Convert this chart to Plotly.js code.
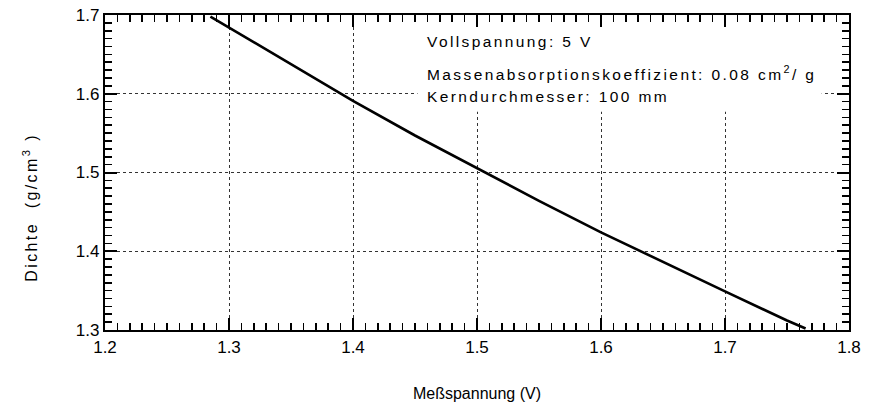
<!DOCTYPE html>
<html>
<head>
<meta charset="utf-8">
<script src="https://cdn.plot.ly/plotly-3.0.1.min.js"></script>
<style>
  html, body { margin: 0; padding: 0; background: #fff; }
  #wrap { position: relative; width: 870px; height: 417px; }
  #chart, #ticks { position: absolute; left: 0; top: 0; width: 870px; height: 417px; }
  #ticks { pointer-events: none; }
  .annotation-text { letter-spacing: 2.4px; }
</style>
</head>
<body>
<div id="wrap">
  <div id="chart"></div>
  <div id="ticks"></div>
</div>
<script>
const voltage = [1.285, 1.30, 1.35, 1.40, 1.45, 1.50, 1.55, 1.60, 1.65, 1.70, 1.75, 1.765];
const density = [1.698, 1.684, 1.637, 1.591, 1.547, 1.505, 1.464, 1.424, 1.386, 1.349, 1.312, 1.302];

// Major ticks and their labels
const xTickVals = [1.2, 1.3, 1.4, 1.5, 1.6, 1.7, 1.8];
const xTickText = ['1.2', '1.3', '1.4', '1.5', '1.6', '1.7', '1.8'];
const yTickVals = [1.3, 1.4, 1.5, 1.6, 1.7];
const yTickText = ['1.3', '1.4', '1.5', '1.6', '1.7'];
const minorPerMajor = 10;

const infoLines = [
  'Vollspannung: 5 V',
  'Massenabsorptionskoeffizient: 0.08 cm<sup>2</sup>/ g',
  'Kerndurchmesser: 100 mm'
];
const xTitle = 'Meßspannung (V)';
const yTitle = 'Dichte  (g/cm<sup>3</sup> )';

const font = 'Liberation Sans, Arial, Helvetica, sans-serif';
const margin = { l: 105, r: 21, t: 15, b: 87 };

const curve = {
  x: voltage,
  y: density,
  type: 'scatter',
  mode: 'lines',
  line: { color: '#000', width: 2.6 },
  hoverinfo: 'skip',
  showlegend: false
};

function axisFor(vals, text) {
  return {
    range: [vals[0], vals[vals.length - 1]],
    tickmode: 'array',
    tickvals: vals,
    ticktext: text,
    ticks: '',
    showline: true,
    linecolor: '#000',
    linewidth: 2.2,
    mirror: true,
    showgrid: true,
    gridcolor: '#333',
    gridwidth: 1,
    griddash: 'dot',
    zeroline: false,
    tickfont: { family: font, size: 17, color: '#000' }
  };
}

const rowY = [0.917, 0.815, 0.740];
const annotations = infoLines.map((t, i) => ({
  xref: 'paper', yref: 'paper',
  x: 0.43, y: rowY[i],
  xanchor: 'left', yanchor: 'middle',
  text: t, showarrow: false,
  font: { family: font, size: 15.5, color: '#000' }
}));
annotations.push({
  xref: 'paper', yref: 'paper',
  x: -0.10, y: 0.39,
  xanchor: 'center', yanchor: 'middle',
  textangle: -90,
  text: yTitle, showarrow: false,
  font: { family: font, size: 16, color: '#000' }
});

const xaxis = axisFor(xTickVals, xTickText);
xaxis.title = { text: xTitle, standoff: 32, font: { family: font, size: 16, color: '#000' } };
const yaxis = axisFor(yTickVals, yTickText);

const layout = {
  width: 870, height: 417,
  margin: margin,
  paper_bgcolor: '#fff',
  plot_bgcolor: '#fff',
  xaxis: xaxis,
  yaxis: yaxis,
  shapes: [{
    type: 'rect', xref: 'x', yref: 'y', layer: 'between',
    x0: 1.452, x1: 1.778, y0: 1.577, y1: 1.7,
    fillcolor: '#fff', line: { width: 0 }
  }],
  annotations: annotations
};

Plotly.newPlot('chart', [curve], layout, { staticPlot: true, displayModeBar: false });

// Transparent overlay with the same axes, carrying the inside tick marks on all four sides
function tickAxis(vals) {
  const step = vals[1] - vals[0];
  return {
    range: [vals[0], vals[vals.length - 1]],
    tickmode: 'linear', tick0: vals[0], dtick: step,
    showticklabels: false,
    showline: true, linecolor: '#000', linewidth: 2.2,
    mirror: 'allticks',
    ticks: 'inside', ticklen: 12, tickwidth: 2, tickcolor: '#000',
    showgrid: false, zeroline: false,
    minor: { dtick: step / minorPerMajor, ticks: 'inside', ticklen: 7, tickwidth: 1.6, tickcolor: '#000', showgrid: false }
  };
}
Plotly.newPlot('ticks', [{ x: [], y: [], type: 'scatter', mode: 'lines', hoverinfo: 'skip', showlegend: false }], {
  width: 870, height: 417,
  margin: margin,
  paper_bgcolor: 'rgba(0,0,0,0)',
  plot_bgcolor: 'rgba(0,0,0,0)',
  showlegend: false,
  xaxis: tickAxis(xTickVals),
  yaxis: tickAxis(yTickVals)
}, { staticPlot: true, displayModeBar: false });
</script>
</body>
</html>
